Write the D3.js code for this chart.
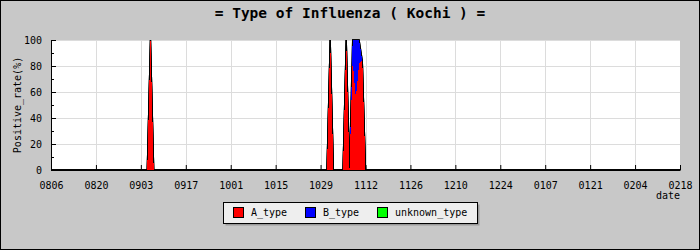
<!DOCTYPE html>
<html lang="en">
<head>
<meta charset="UTF-8">
<title>Type of Influenza (Kochi)</title>
<style>
  body { margin: 0; background: #fff; }
  svg { display: block; }
  text { font-family: "DejaVu Sans Mono", monospace; }
</style>
</head>
<body>
<div id="chart-container"></div>
<script src="https://d3js.org/d3.v7.min.js"></script>
<script>
// data (MMDD, season runs Aug -> Feb)
const dates       = ["0806","0905","0906","0907","1031","1101","1102","1105","1106","1107","1108","1109","1110","1111","1112","0218"];
const aType       = [0, 0, 100, 0, 0, 100, 0, 0, 100, 0, 84, 55, 82, 84, 0, 0];
const bType       = [0, 0, 0, 0, 0, 0, 0, 0, 0, 0, 16, 45, 18, 0, 0, 0];
const unknownType = [0, 0, 0, 0, 0, 0, 0, 0, 0, 0, 0, 0, 0, 0, 0, 0];
const tickLabels  = ["0806","0820","0903","0917","1001","1015","1029","1112","1126","1210","1224","0107","0121","0204","0218"];
const yTicks      = [0, 20, 40, 60, 80, 100];
const seriesNames  = ["A_type", "B_type", "unknown_type"];
const seriesColors = ["#ff0000", "#0000ff", "#00ff00"];

const W = 700, H = 250;
const margin = { top: 40, right: 20, bottom: 80, left: 51 };
const width = 680 - margin.left;
const height = 170 - margin.top;

// MMDD -> date, Aug..Dec in first year, Jan..Feb in next
const parse = d3.utcParse("%Y%m%d");
function toDate(s) {
  const m = +s.slice(0, 2);
  return parse((m >= 7 ? "2014" : "2015") + s);
}

const rows = dates.map((d, i) => ({
  date: toDate(d), A_type: aType[i], B_type: bType[i], unknown_type: unknownType[i]
}));

const svg = d3.select("#chart-container").append("svg")
  .attr("width", W).attr("height", H);

// background + frame
svg.append("rect").attr("x", 0.5).attr("y", 0.5).attr("width", W - 1).attr("height", H - 1)
  .attr("fill", "#c8c8c8").attr("stroke", "#000");

// title
svg.append("text")
  .attr("x", 350).attr("y", 18)
  .attr("text-anchor", "middle")
  .style("font-size", "14.5px")
  .style("font-weight", "bold")
  .text("= Type of Influenza ( Kochi ) =");

const g = svg.append("g").attr("transform", "translate(" + margin.left + "," + margin.top + ")");

const x = d3.scaleUtc().domain([toDate(tickLabels[0]), toDate(tickLabels[tickLabels.length - 1])]).range([0, width]);
const y = d3.scaleLinear().domain([0, 100]).range([height, 0]);

// plot area
g.append("rect").attr("width", width).attr("height", height).attr("fill", "#fff");

// grid
g.append("g").selectAll("line").data(tickLabels.slice(1, -1)).enter().append("line")
  .attr("x1", d => Math.round(x(toDate(d))) + 0.5).attr("x2", d => Math.round(x(toDate(d))) + 0.5)
  .attr("y1", 0).attr("y2", height)
  .attr("stroke", "#dcdcdc");
g.append("g").selectAll("line").data(yTicks.slice(1)).enter().append("line")
  .attr("x1", 0).attr("x2", width)
  .attr("y1", d => Math.round(y(d)) + 0.5).attr("y2", d => Math.round(y(d)) + 0.5)
  .attr("stroke", "#dcdcdc");

// stacked areas
const stack = d3.stack().keys(seriesNames);
const layers = stack(rows);

const area = d3.area()
  .x(d => x(d.data.date))
  .y0(d => y(d[0]))
  .y1(d => y(d[1]));
const topLine = d3.line()
  .x(d => x(d.data.date))
  .y(d => y(d[1]));

// outline first, fill drawn over it so the black only shows at the edges
g.append("g").selectAll("path").data(layers).enter().append("path")
  .attr("d", topLine)
  .attr("fill", "none")
  .attr("stroke", "#000")
  .attr("stroke-width", 1.3);
g.append("g").selectAll("path").data(layers).enter().append("path")
  .attr("d", area)
  .attr("fill", (d, i) => seriesColors[i])
  .attr("shape-rendering", "crispEdges");

// x axis
const xAxis = g.append("g")
  .attr("transform", "translate(0," + height + ")")
  .call(d3.axisBottom(x)
    .tickValues(tickLabels.map(toDate))
    .tickFormat(d3.utcFormat("%m%d"))
    .tickSizeInner(-5).tickSizeOuter(0).tickPadding(12));
xAxis.select(".domain").attr("stroke", "#000");
xAxis.selectAll(".tick line").attr("stroke", "#000");
xAxis.selectAll("text").style("font-size", "10px").style("font-family", "DejaVu Sans Mono").attr("fill", "#000");

// y axis, major + minor ticks
const yAxis = g.append("g")
  .call(d3.axisLeft(y).tickValues(yTicks).tickSizeInner(-5).tickSizeOuter(0).tickPadding(9));
yAxis.select(".domain").attr("stroke", "#000");
yAxis.selectAll("text").style("font-size", "10px").style("font-family", "DejaVu Sans Mono").attr("fill", "#000");
g.append("g")
  .call(d3.axisLeft(y).tickValues([10, 30, 50, 70, 90]).tickSizeInner(-3).tickSizeOuter(0).tickFormat(""))
  .select(".domain").remove();

// axis titles
svg.append("text")
  .attr("x", 680).attr("y", 199)
  .attr("text-anchor", "end")
  .style("font-size", "10px")
  .text("date");

svg.append("text")
  .attr("transform", "translate(21,105) rotate(-90)")
  .attr("text-anchor", "middle")
  .style("font-size", "10px")
  .text("Positive_rate(%)");

// legend
const lg = svg.append("g");
lg.append("rect").attr("x", 225.5).attr("y", 204.5).attr("width", 254).attr("height", 21).attr("fill", "#999");
lg.append("rect").attr("x", 223.5).attr("y", 202.5).attr("width", 254).attr("height", 21)
  .attr("fill", "#eeeeee").attr("stroke", "#000");
const legendX = [233, 305, 377];
seriesNames.forEach((name, i) => {
  lg.append("rect").attr("x", legendX[i] + 0.5).attr("y", 207.5).attr("width", 10).attr("height", 10)
    .attr("fill", seriesColors[i]).attr("stroke", "#000");
  lg.append("text").attr("x", legendX[i] + 18).attr("y", 216)
    .style("font-size", "10px").text(name);
});
</script>
</body>
</html>
